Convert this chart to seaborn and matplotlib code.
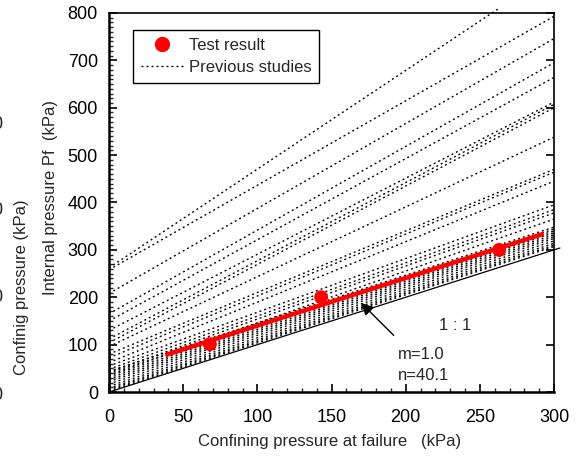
import matplotlib
matplotlib.use("Agg")
import matplotlib.pyplot as plt
import pandas as pd
import seaborn as sns
from matplotlib.lines import Line2D
from matplotlib.ticker import MultipleLocator

# test results (kPa)
test_x = [68, 143, 263]
test_y = [101, 200, 300]

# fitted line m=1.0, n=40.1 (end points)
fit_x = [38, 293]
fit_y = [78, 334]

# 1:1 reference line
ref_x = [0, 304]
ref_y = [0, 304]

# previous studies: value at x=0 and end point of each line
prev_start = [262, 258, 208, 165, 150, 130, 112, 104, 96, 80, 72, 62, 55, 48,
              42, 36, 44, 40, 34, 30, 26, 22, 17, 12, 8, 5, 2]
prev_x_end = [262, 300, 300, 300, 300, 300, 300, 300, 300, 300, 300, 300, 300,
              300, 300, 300, 300, 300, 300, 300, 300, 300, 300, 300, 300, 300,
              300]
prev_y_end = [808, 793, 746, 695, 664, 612, 607, 600, 538, 470, 464, 445, 395,
              385, 378, 365, 348, 344, 340, 336, 332, 328, 324, 319, 314, 310,
              307]

rows = []
for i, (y0, x1, y1) in enumerate(zip(prev_start, prev_x_end, prev_y_end)):
    rows.append({"line": i, "x": 0, "y": y0})
    rows.append({"line": i, "x": x1, "y": y1})
prev = pd.DataFrame(rows)

sns.set_style("ticks")
plt.rcParams["font.family"] = ["Liberation Sans", "DejaVu Sans"]
plt.rcParams["font.size"] = 12

fig = plt.figure(figsize=(5.78, 4.57), dpi=100)
ax = fig.add_axes([0.1886, 0.1422, 0.7699, 0.8294])

dots = (0, (1.4, 2.2))
sns.lineplot(data=prev, x="x", y="y", units="line", estimator=None,
             color="black", linewidth=1.0, linestyle=dots,
             clip_on=False, ax=ax, legend=False)

ax.plot(ref_x, ref_y, color="black", linewidth=0.9, clip_on=False)
ax.plot(fit_x, fit_y, color="#ff0000", linewidth=3.2, solid_capstyle="butt",
        zorder=4)
sns.scatterplot(x=test_x, y=test_y, color="#ff0000", s=100, edgecolor="none",
                ax=ax, zorder=5)

ax.set_xlim(0, 300)
ax.set_ylim(0, 800)
ax.xaxis.set_major_locator(MultipleLocator(50))
ax.xaxis.set_minor_locator(MultipleLocator(10))
ax.yaxis.set_major_locator(MultipleLocator(100))
ax.yaxis.set_minor_locator(MultipleLocator(10))
ax.tick_params(axis="both", which="major", direction="in", length=6,
               width=1.2, labelsize=13, colors="black")
ax.tick_params(axis="x", which="major", pad=12)
ax.tick_params(axis="y", which="major", pad=8, right=True)
ax.tick_params(axis="both", which="minor", direction="in", length=3,
               width=1.0)
for side in ["left", "bottom"]:
    ax.spines[side].set_linewidth(1.8)
for side in ["top", "right"]:
    ax.spines[side].set_linewidth(1.2)
for side in ax.spines:
    ax.spines[side].set_color("black")

ax.set_xlabel("Confining pressure at failure   (kPa)", fontsize=12)
ax.set_ylabel("Internal pressure Pf  (kPa)", fontsize=12)
ax.xaxis.set_label_coords(0.495, -0.112)
ax.yaxis.set_label_coords(-0.115, 0.514)
fig.text(0.038, 0.372, "Confinig pressure (kPa)", rotation=90, fontsize=12,
         ha="center", va="center")
for yy in [0.727, 0.54, 0.348, 0.135]:
    fig.text(-0.004, yy, "0", fontsize=13, ha="center", va="center")

ax.text(233, 141, "1 : 1", fontsize=12, ha="center", va="center")
ax.annotate("m=1.0\nn=40.1", xy=(170, 188), xytext=(195, 56),
            fontsize=12, ha="left", va="center", linespacing=1.5,
            arrowprops=dict(arrowstyle="-|>", color="black", lw=1.0,
                            mutation_scale=18, shrinkA=9, shrinkB=0))

handles = [
    Line2D([], [], marker="o", color="#ff0000", linestyle="none",
           markersize=10),
    Line2D([], [], color="black", linestyle=dots, linewidth=1.0),
]
leg = ax.legend(handles, ["Test result", "Previous studies"],
                loc="upper left", bbox_to_anchor=(0.054, 0.955),
                borderaxespad=0, frameon=True, fancybox=False,
                framealpha=1, edgecolor="black", fontsize=12,
                handlelength=2.6, handletextpad=0.3, borderpad=0.45,
                labelspacing=0.45)
leg.get_frame().set_linewidth(1.0)

fig.savefig("out.png", dpi=100)
